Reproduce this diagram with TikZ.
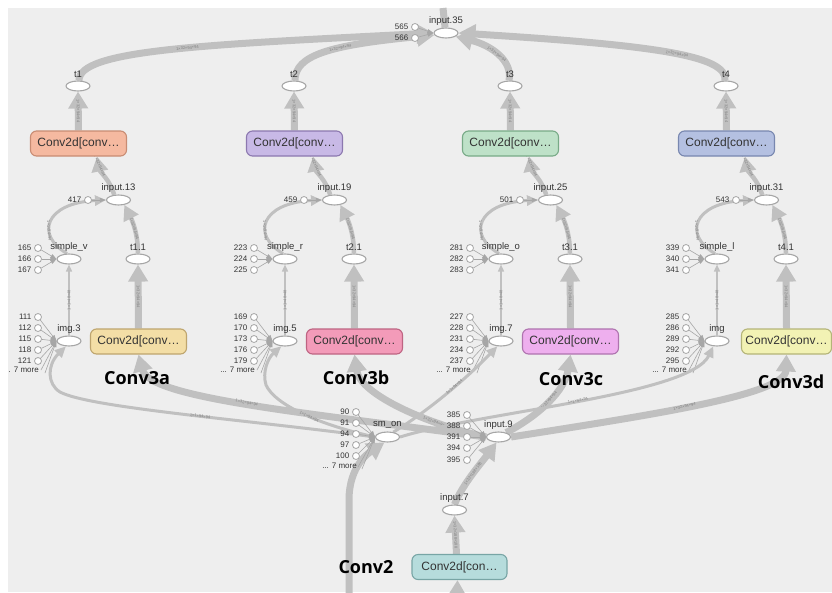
\documentclass[tikz,border=0pt]{standalone}
\usepackage{fontspec}
\setmainfont{Liberation Sans}
\newfontfamily\boldfam{Open Sans}
\usetikzlibrary{arrows.meta,shapes.geometric}
\pgfdeclarelayer{bgl}
\pgfdeclarelayer{edges}
\pgfsetlayers{bgl,edges,main}
\definecolor{bgc}{HTML}{EEEEEE}
\definecolor{eg}{HTML}{C0C0C0}
\definecolor{ells}{HTML}{A6A6A6}
\definecolor{txt}{HTML}{333333}
\definecolor{etxt}{HTML}{808080}
\definecolor{cOr}{HTML}{F5B9A0}\definecolor{cOrd}{HTML}{C88C73}
\definecolor{cPu}{HTML}{C8B9E6}\definecolor{cPud}{HTML}{8C78AF}
\definecolor{cGr}{HTML}{BEE1C8}\definecolor{cGrd}{HTML}{78AA87}
\definecolor{cBl}{HTML}{B4C0E1}\definecolor{cBld}{HTML}{7887AF}
\definecolor{cYe}{HTML}{F3DEA6}\definecolor{cYed}{HTML}{BEA56E}
\definecolor{cPk}{HTML}{F39BB9}\definecolor{cPkd}{HTML}{BE6482}
\definecolor{cMg}{HTML}{EEAFEE}\definecolor{cMgd}{HTML}{AF73AF}
\definecolor{cYg}{HTML}{F2F2B4}\definecolor{cYgd}{HTML}{B4B478}
\definecolor{cTe}{HTML}{B6DCDC}\definecolor{cTed}{HTML}{78A5A5}

\newcommand\EN[4]{\node[ell] (#1) at (#2,#3) {}; \node[lab] at (#2,#3-12) {#4};}
\newcommand\CN[4]{\node[smc] (#1) at (#2,#3) {}; \node[clab] at (#2-6.5,#3) {#4};}
\newcommand\BX[7]{\node[opbox, minimum width=#6pt, fill=#4, draw=#5] (#1) at (#2,#3) {#7};}

\newcommand\COL[2]{%
\begin{scope}[xshift=#2pt]
\BX{#1b}{78.5}{143.5}{\Qtop}{\Qtopd}{96}{Conv2d[conv…}
\EN{#1t}{78}{86}{\Qt}
\EN{#1in}{118.5}{200}{\Qin}
\CN{#1k}{88}{200}{\Qk}
\EN{#1s}{69}{259}{\Qs}
\EN{#1tt}{138}{259}{\Qtt}
\EN{#1img}{69}{341}{\Qimg}
\CN{#1s1}{38}{248}{\Qsa}
\CN{#1s2}{38}{259}{\Qsb}
\CN{#1s3}{38}{270}{\Qsc}
\CN{#1i1}{38}{317}{\Qia}
\CN{#1i2}{38}{328}{\Qib}
\CN{#1i3}{38}{339}{\Qic}
\CN{#1i4}{38}{350}{\Qid}
\CN{#1i5}{38}{361}{\Qie}
\node[clab] at (39,370) {... 7 more};
\coordinate (#1m1) at (41,370);
\coordinate (#1m2) at (45,373);
\BX{#1B}{138.5}{341.5}{\Qbot}{\Qbotd}{\Qbw}{Conv2d[conv…}
\node[big] at (\Qbx,\Qby) {\Qbig};
\begin{pgfonlayer}{edges}
\draw[ethick] (#1b.north) -- (#1t.south) node[elab,midway]{1×32×94×94};
\draw[emid] (#1in.130) .. controls (110,180) and (100,172) .. ([xshift=18.5pt]#1b.south) node[elab,pos=0.78]{1×32×94×94};
\draw[emid] (#1tt.north) .. controls (138,232) and (131,218) .. (#1in.-40) node[elab,pos=0.45]{1×32×94×94};
\draw[ethin] (#1s.110) .. controls (35,235) and (45,203) .. (#1in.west) node[elab,pos=0.35]{1×1×94×94};
\draw[ehair] (#1img.north) -- (#1s.south) node[elab,midway]{1×1×48×48};
\draw[ethick] (#1B.north) -- (#1tt.south) node[elab,midway]{1×32×94×94};
\foreach \q in {s1,s2,s3} \draw[ecirc] (#1\q) -- (#1s.west);
\foreach \q in {i1,i2,i3,i4,i5,m1,m2} \draw[ecirc] (#1\q) -- (#1img.west);
\draw[ecirc] (#1k) -- (#1in.west);
\end{pgfonlayer}
\end{scope}}

\begin{document}
\begin{tikzpicture}[x=1pt,y=-1pt,
  ell/.style={ellipse, draw=ells, fill=white, line width=1.1pt, minimum width=24pt, minimum height=10pt, inner sep=0pt},
  smc/.style={circle, draw=ells, fill=white, line width=0.8pt, minimum size=7pt, inner sep=0pt},
  lab/.style={font=\fontsize{9.5}{10}\selectfont, text=txt, inner sep=0pt},
  clab/.style={font=\fontsize{8}{9}\selectfont, text=txt, inner sep=0pt, anchor=east},
  opbox/.style={rectangle, rounded corners=6pt, line width=1.1pt, minimum height=25pt, inner sep=0pt, font=\fontsize{12}{13}\selectfont, text=txt},
  big/.style={font=\boldfam\bfseries\fontsize{18}{20}\selectfont, text=black, inner sep=0pt},
  elab/.style={font=\fontsize{4}{4}\selectfont, text=etxt, sloped, inner sep=0pt},
  ethick/.style={draw=eg, line width=7pt, -{Triangle[width=19pt,length=17pt]}},
  emid/.style={draw=eg, line width=4.5pt, -{Triangle[width=16pt,length=15pt]}},
  ethin/.style={draw=eg, line width=3pt, -{Triangle[width=10pt,length=11pt]}},
  ehair/.style={draw=eg, line width=1.5pt, -{Triangle[width=6pt,length=7pt]}},
  ecirc/.style={draw=ells, line width=0.6pt, -{Triangle[width=4pt,length=6pt]}},
  eband/.style={draw=eg, line width=7pt}]
\useasboundingbox (0,0) rectangle (832,592);
\begin{pgfonlayer}{bgl}
\fill[white] (0,0) rectangle (832,592);
\fill[bgc] (8,8) rectangle (832,592);
\end{pgfonlayer}
\begin{scope}
\clip (8,8) rectangle (832,592);
% top node
\EN{in35}{446}{33}{input.35}
\CN{c565}{415}{27}{565}
\CN{c566}{415}{38}{566}
\coordinate (top35) at (443,8);
% column 1
\def\Qtop{cOr}\def\Qtopd{cOrd}\def\Qbot{cYe}\def\Qbotd{cYed}\def\Qbw{96}
\def\Qt{t1}\def\Qin{input.13}\def\Qk{417}\def\Qs{simple\_v}\def\Qtt{t1.1}\def\Qimg{img.3}
\def\Qsa{165}\def\Qsb{166}\def\Qsc{167}
\def\Qia{111}\def\Qib{112}\def\Qic{115}\def\Qid{118}\def\Qie{121}
\def\Qbig{Conv3a}\def\Qbx{137}\def\Qby{378}
\COL{a}{0}
% column 2
\def\Qtop{cPu}\def\Qtopd{cPud}\def\Qbot{cPk}\def\Qbotd{cPkd}\def\Qbw{96}
\def\Qt{t2}\def\Qin{input.19}\def\Qk{459}\def\Qs{simple\_r}\def\Qtt{t2.1}\def\Qimg{img.5}
\def\Qsa{223}\def\Qsb{224}\def\Qsc{225}
\def\Qia{169}\def\Qib{170}\def\Qic{173}\def\Qid{176}\def\Qie{179}
\def\Qbig{Conv3b}\def\Qbx{140}\def\Qby{378}
\COL{b}{216}
% column 3
\def\Qtop{cGr}\def\Qtopd{cGrd}\def\Qbot{cMg}\def\Qbotd{cMgd}\def\Qbw{96}
\def\Qt{t3}\def\Qin{input.25}\def\Qk{501}\def\Qs{simple\_o}\def\Qtt{t3.1}\def\Qimg{img.7}
\def\Qsa{281}\def\Qsb{282}\def\Qsc{283}
\def\Qia{227}\def\Qib{228}\def\Qic{231}\def\Qid{234}\def\Qie{237}
\def\Qbig{Conv3c}\def\Qbx{139}\def\Qby{379}
\COL{c}{432}
% column 4
\def\Qtop{cBl}\def\Qtopd{cBld}\def\Qbot{cYg}\def\Qbotd{cYgd}\def\Qbw{90}
\def\Qt{t4}\def\Qin{input.31}\def\Qk{543}\def\Qs{simple\_l}\def\Qtt{t4.1}\def\Qimg{img}
\def\Qsa{339}\def\Qsb{340}\def\Qsc{341}
\def\Qia{285}\def\Qib{286}\def\Qic{289}\def\Qid{292}\def\Qie{295}
\def\Qbig{Conv3d}\def\Qbx{143}\def\Qby{382}
\COL{d}{648}
% bottom part
\EN{smon}{387.5}{437}{sm\_on}
\CN{u90}{356}{412}{90}
\CN{u91}{356}{423}{91}
\CN{u94}{356}{434}{94}
\CN{u97}{356}{445}{97}
\CN{u100}{356}{456}{100}
\node[clab] at (357,466) {... 7 more};
\coordinate (um1) at (358,467);
\coordinate (um2) at (362,469);
\EN{in9}{498.5}{437}{input.9}
\CN{v385}{467}{415}{385}
\CN{v388}{467}{426}{388}
\CN{v391}{467}{437}{391}
\CN{v394}{467}{448}{394}
\CN{v395}{467}{460}{395}
\EN{in7}{454.5}{510}{input.7}
\BX{bT}{459.5}{567}{cTe}{cTed}{95}{Conv2d[con…}
\node[big] at (366,567) {Conv2};
\coordinate (bota) at (349,600);
\coordinate (botb) at (457,600);
\begin{pgfonlayer}{edges}
% into input.35
\draw[eband] (top35) -- (in35.100);
\draw[ethick] (at.80) .. controls (79,50) and (200,45) .. (in35.west) node[elab,pos=0.55]{1×32×94×94};
\draw[ethick] (bt.80) .. controls (295,55) and (330,45) .. (in35.190) node[elab,pos=0.6]{1×32×94×94};
\draw[ethick] (ct.100) .. controls (513,60) and (490,45) .. (in35.-20) node[elab,midway]{1×32×94×94};
\draw[ethick] (dt.100) .. controls (728,55) and (650,45) .. (in35.east) node[elab,pos=0.45]{1×32×94×94};
\draw[ecirc] (c565) -- (in35.west);
\draw[ecirc] (c566) -- (in35.west);
% from input.9 and sm_on
\draw[ethick] (in9.west) .. controls (300,412) and (150,398) .. (aB.south) node[elab,pos=0.5]{1×32×94×94};
\draw[ethin] (smon.west) .. controls (250,420) and (90,408) .. (60,392) node[elab,pos=0.45]{1×1×94×94} .. controls (47,384) and (47,365) .. (aimg.240);
\draw[ethin] (smon.west) .. controls (320,425) and (275,405) .. (266,385) node[elab,pos=0.45]{1×1×94×94} .. controls (262,372) and (268,358) .. (bimg.235);
\draw[ethick] (in9.west) .. controls (430,425) and (360,395) .. (bB.south) node[elab,pos=0.3]{1×32×94×94};
\draw[ethin] (smon.40) .. controls (430,410) and (470,375) .. (cimg.235) node[elab,pos=0.55]{1×1×94×94};
\draw[ethick] (in9.30) .. controls (540,415) and (565,390) .. (cB.south) node[elab,midway]{1×32×94×94};
\draw[ethin] (smon.east) .. controls (480,412) and (690,395) .. (dimg.235) node[elab,pos=0.5]{1×1×94×94};
\draw[ethick] (in9.east) .. controls (650,415) and (785,395) .. (dB.south) node[elab,pos=0.45]{1×32×94×94};
\draw[ethick] (in7.north) .. controls (462,485) and (482,462) .. (in9.250) node[elab,midway]{1×32×188×188};
\draw[ethick] ([xshift=-3pt]bT.north) -- (in7.south) node[elab,midway]{1×32×188×188};
\draw[ethick] (botb) -- ([xshift=-2pt]bT.south);
\draw[ethick] (bota) -- (349,500) .. controls (349,465) and (370,452) .. (smon.240);
\foreach \q in {u90,u91,u94,u97,u100,um1,um2} \draw[ecirc] (\q) -- (smon.west);
\foreach \q in {v385,v388,v391,v394,v395} \draw[ecirc] (\q) -- (in9.west);
\end{pgfonlayer}
\end{scope}
\end{tikzpicture}
\end{document}
